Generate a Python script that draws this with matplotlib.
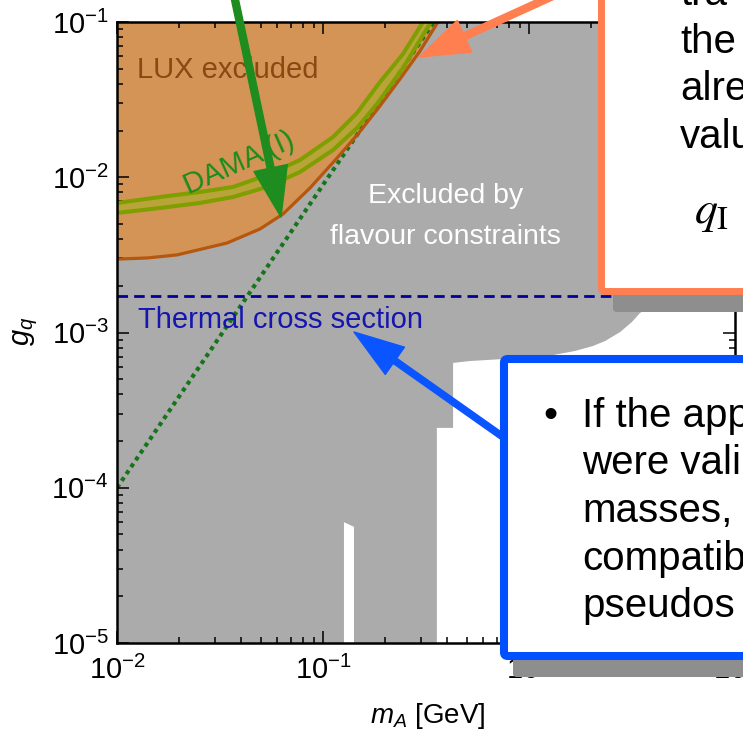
import matplotlib
matplotlib.use("Agg")
import matplotlib.pyplot as plt
from matplotlib.patches import FancyBboxPatch, FancyArrowPatch

plt.rcParams["font.family"] = ["Liberation Sans", "DejaVu Sans"]
plt.rcParams["mathtext.fontset"] = "custom"
plt.rcParams["mathtext.rm"] = "Liberation Sans"
plt.rcParams["mathtext.it"] = "Liberation Sans:italic"

W, H = 743, 733  # output size in pixels (dpi 100)

# LUX exclusion boundary: m_A [GeV], g_q
lux_m = [0.0100, 0.0140, 0.01955, 0.0342, 0.0494, 0.0640, 0.0865, 0.1170, 0.1479, 0.1891, 0.2366, 0.2958, 0.3614]
lux_g = [2.97e-3, 3.02e-3, 3.16e-3, 3.77e-3, 4.64e-3, 5.80e-3, 8.53e-3, 1.33e-2, 1.90e-2, 2.88e-2, 4.30e-2, 6.50e-2, 0.1]

# DAMA (I) band edges
dama_hi_m = [0.0100, 0.0162, 0.0253, 0.0366, 0.0535, 0.0773, 0.1118, 0.1462, 0.1891, 0.2445, 0.3057]
dama_hi_g = [6.83e-3, 7.46e-3, 8.04e-3, 8.66e-3, 1.034e-2, 1.291e-2, 1.816e-2, 2.594e-2, 4.107e-2, 6.22e-2, 0.1]
dama_lo_m = [0.0100, 0.0162, 0.0253, 0.0366, 0.0535, 0.0773, 0.1118, 0.1462, 0.1828, 0.2445, 0.3344]
dama_lo_g = [5.89e-3, 6.34e-3, 6.83e-3, 7.46e-3, 8.66e-3, 1.081e-2, 1.497e-2, 2.076e-2, 2.963e-2, 5.055e-2, 0.1]

# flavour constraints: right-hand edge of the excluded region (top to bottom)
flav_m = [10.0, 4.3, 3.46, 3.16, 2.77, 2.34, 2.04, 1.67, 1.31, 0.904, 0.625, 0.517, 0.428, 0.428, 0.357, 0.357]
flav_g = [1.62e-3, 1.62e-3, 1.336e-3, 1.169e-3, 1.007e-3, 8.81e-4, 8.18e-4, 7.60e-4, 7.16e-4,
          6.85e-4, 6.65e-4, 6.55e-4, 6.37e-4, 2.43e-4, 2.43e-4, 1e-5]

# narrow allowed slit near m_A ~ 0.13 GeV
notch_m = [0.1414, 0.1414, 0.1264, 0.1264]
notch_g = [1e-5, 5.6e-5, 6.0e-5, 1e-5]

# dotted reference line (end points)
dot_m = [0.01, 0.345]
dot_g = [1e-4, 0.1]

thermal_g = 1.72e-3

xlim = (1e-2, 10)
ylim = (1e-5, 1e-1)


def fxy(px, py):
    """pixel position (origin top-left) -> figure fraction"""
    return px / W, 1 - py / H


def fig_box(x1, y1, x2, y2, **kw):
    x, y = fxy(x1, y2)
    return FancyBboxPatch((x, y), (x2 - x1) / W, (y2 - y1) / H,
                          boxstyle="round,pad=0,rounding_size=0.005",
                          transform=fig.transFigure, **kw)


fig = plt.figure(figsize=(W / 100, H / 100), dpi=100)
ax = fig.add_axes([117 / W, (H - 643) / H, 618 / W, 621 / H])
ax.set_xscale("log")
ax.set_yscale("log")
ax.set_xlim(*xlim)
ax.set_ylim(*ylim)

gray_m = lux_m + [xlim[1]] + flav_m + notch_m + [xlim[0]]
gray_g = lux_g + [ylim[1]] + flav_g + notch_g + [ylim[0]]
ax.fill(gray_m, gray_g, color="#ababab", lw=0, zorder=1)
ax.fill(lux_m + [xlim[0]], lux_g + [ylim[1]], color="#d49455", lw=0, zorder=1.2)
ax.plot(dot_m, dot_g, color="#16751a", lw=3.0, ls=(0, (1, 1)), zorder=1.5)
ax.fill(dama_hi_m + dama_lo_m[::-1], dama_hi_g + dama_lo_g[::-1],
        color="#b5a835", alpha=0.85, lw=0, zorder=1.8)
ax.plot(dama_hi_m, dama_hi_g, color="#7f9e00", lw=2.9, zorder=2)
ax.plot(dama_lo_m, dama_lo_g, color="#7f9e00", lw=2.9, zorder=2)
ax.plot(lux_m, lux_g, color="#b5570f", lw=2.3, zorder=2.2)
ax.axhline(thermal_g, color="#00009c", lw=2.0, ls=(0, (3.8, 2.2)), zorder=2.2)

ax.text(0.0125, 0.049, "LUX excluded", fontsize=21, color="#8a4813", va="center")
ax.text(0.039, 0.0123, "DAMA (I)", fontsize=21, color="#1a8c1a", rotation=24,
        rotation_mode="anchor", ha="center", va="center")
ax.text(0.0127, 1.2e-3, "Thermal cross section", fontsize=21, color="#1515b0", va="center")
ax.text(0.394, 7.6e-3, "Excluded by", fontsize=20.5, color="white", ha="center", va="center")
ax.text(0.394, 4.12e-3, "flavour constraints", fontsize=20.5, color="white", ha="center", va="center")

ax.tick_params(which="both", direction="in", top=True, right=True, width=1.1, labelsize=21)
ax.tick_params(which="major", length=8.5)
ax.tick_params(which="minor", length=4.5)
ax.tick_params(axis="y", pad=6)
ax.tick_params(axis="x", pad=9)
for s in ax.spines.values():
    s.set_linewidth(1.8)

ax.set_xlabel("$m_A$ [GeV]", fontsize=20)
ax.set_ylabel("$g_q$", fontsize=21)
ax.xaxis.set_label_coords((428 - 117) / 618, -(701 - 643) / 621)
ax.yaxis.set_label_coords(-(117 - 40) / 618, 1 - (331 - 22) / 621)

# slide annotations drawn on top of the plot
arrow_kw = dict(transform=fig.transFigure, mutation_scale=10, shrinkA=0, shrinkB=0, zorder=10)
fig.add_artist(FancyArrowPatch(fxy(234, -5), fxy(281, 217), color="#1e8c1e",
                               arrowstyle="simple,head_length=3.6,head_width=2.45,tail_width=0.5", **arrow_kw))
fig.add_artist(FancyArrowPatch(fxy(555, -5), fxy(419, 57), color="#ff7f50",
                               arrowstyle="simple,head_length=3.6,head_width=2.5,tail_width=0.5", **arrow_kw))
fig.add_artist(FancyArrowPatch(fxy(503, 437), fxy(354, 332), color="#0a55ff",
                               arrowstyle="simple,head_length=3.6,head_width=2.4,tail_width=0.45", **arrow_kw))

fig.add_artist(fig_box(613, -30, 820, 312, facecolor="#8e8e8e", edgecolor="none", zorder=11))
fig.add_artist(fig_box(601.5, -30, 800, 291.5, facecolor="white", edgecolor="#ff7f50", lw=5, zorder=12))
fig.add_artist(fig_box(513, 380, 820, 677, facecolor="#8e8e8e", edgecolor="none", zorder=11))
fig.add_artist(fig_box(504, 359, 800, 656, facecolor="white", edgecolor="#0050ff", lw=5.8, zorder=12))

orange_lines = ["tra", "the", "alre", "valu"]
for i, s in enumerate(orange_lines):
    fig.text(*fxy(680, 5 + 47.7 * i), s, fontsize=29, va="baseline", zorder=13)
fig.text(*fxy(694, 223), r"$q_{\mathrm{I}}$", fontsize=33, math_fontfamily="stix",
         va="baseline", zorder=13)

blue_lines = ["If the app", "were vali", "masses,", "compatib", "pseudos"]
fig.text(*fxy(550, 427), "\u2022", fontsize=29, ha="center", va="baseline", zorder=13)
for i, s in enumerate(blue_lines):
    fig.text(*fxy(582, 427 + 47.5 * i), s, fontsize=29, va="baseline", zorder=13)

fig.savefig("out.png", dpi=100)
